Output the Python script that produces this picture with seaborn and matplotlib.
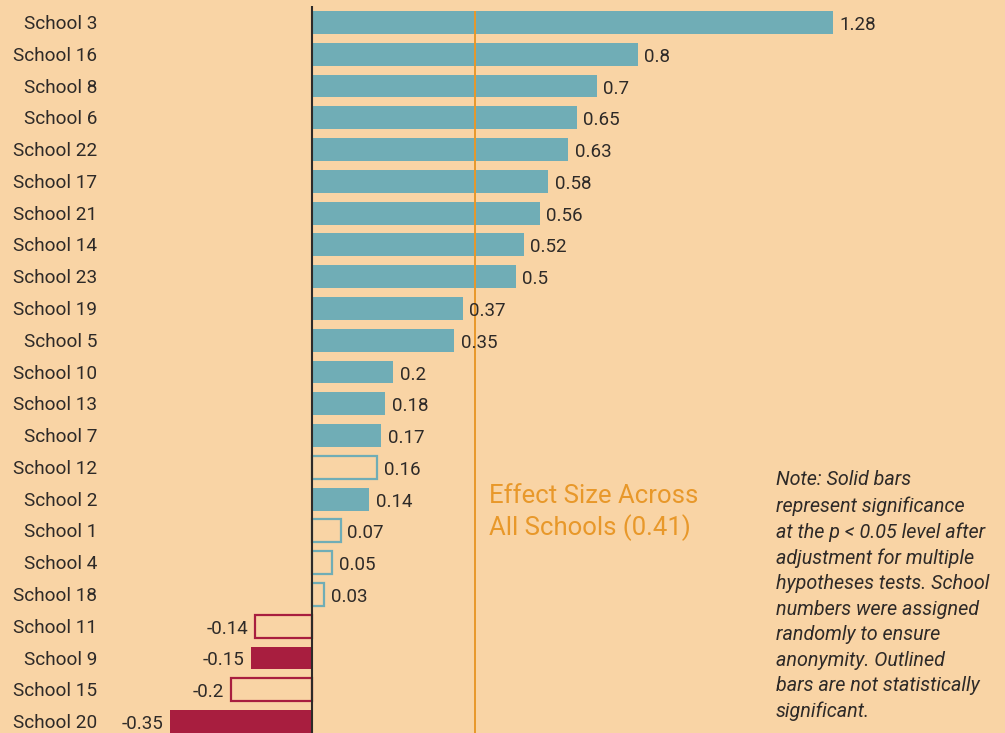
import pandas as pd
import matplotlib.pyplot as plt
import matplotlib.transforms as mtransforms
import seaborn as sns

# =============================================================================
# Data
# =============================================================================
schools = ['School 3', 'School 16', 'School 8', 'School 6', 'School 22', 'School 17',
           'School 21', 'School 14', 'School 23', 'School 19', 'School 5', 'School 10',
           'School 13', 'School 7', 'School 12', 'School 2', 'School 1', 'School 4',
           'School 18', 'School 11', 'School 9', 'School 15', 'School 20']
effects = [1.28, 0.8, 0.7, 0.65, 0.63, 0.58, 0.56, 0.52, 0.5, 0.37, 0.35, 0.2,
           0.18, 0.17, 0.16, 0.14, 0.07, 0.05, 0.03, -0.14, -0.15, -0.2, -0.35]
significant = [True, True, True, True, True, True, True, True, True, True, True, True,
               True, True, False, True, False, False, False, False, True, False, True]
overall_effect = 0.4
overall_label = 'Effect Size Across\nAll Schools (0.41)'
note_text = ('Note: Solid bars\nrepresent significance\nat the p < 0.05 level after\n'
             'adjustment for multiple\nhypotheses tests. School\nnumbers were assigned\n'
             'randomly to ensure\nanonymity. Outlined\nbars are not statistically\nsignificant.')

df = pd.DataFrame({'school': schools, 'effect': effects, 'sig': significant})

# colours
bg = '#F9D4A5'
teal = '#70ADB6'
red = '#A81E3F'
orange = '#E8982A'
dark = '#2E2A28'

sns.set_theme(style='white')
plt.rcParams['font.family'] = ['Roboto', 'DejaVu Sans']

fig = plt.figure(figsize=(10.05, 7.33), dpi=100, facecolor=bg)
ax = fig.add_axes([0, 0, 1, 1])
ax.set_facecolor(bg)

bar_colors = [teal if v >= 0 else red for v in effects]
sns.barplot(data=df, x='effect', y='school', hue='school', palette=bar_colors,
            orient='h', width=0.72, legend=False, ax=ax, saturation=1)

# outlined bars = not significant
for patch, v, sig in zip(ax.patches, effects, significant):
    c = teal if v >= 0 else red
    if sig:
        patch.set_facecolor(c)
        patch.set_edgecolor('none')
    else:
        patch.set_facecolor(bg)
        patch.set_edgecolor(c)
        patch.set_linewidth(1.6)

ax.set_xlim(-0.767, 1.703)
ax.set_ylim(22.362, -0.708)

# zero line and overall effect line
ax.vlines(0, -0.52, 22.4, color=dark, linewidth=1.5, zorder=3)
ax.vlines(overall_effect, -0.36, 22.4, color=orange, linewidth=1.4, zorder=1)

# value labels
for i, v in enumerate(effects):
    if v >= 0:
        ax.text(v + 0.016, i + 0.08, str(v), ha='left', va='center', fontsize=13.5, color=dark)
    else:
        ax.text(v - 0.016, i + 0.08, str(v), ha='right', va='center', fontsize=13.5, color=dark)

# school labels
trans = mtransforms.blended_transform_factory(ax.transAxes, ax.transData)
for i, s in enumerate(schools):
    ax.text(0.097, i + 0.05, s, transform=trans, ha='right', va='center', fontsize=13.7, color=dark)

ax.text(0.487, 0.301, overall_label, transform=ax.transAxes, ha='left', va='center',
        fontsize=18.5, color=orange, linespacing=1.26)
ax.text(0.772, 0.187, note_text, transform=ax.transAxes, ha='left', va='center',
        fontsize=14.2, color=dark, style='italic', linespacing=1.43)

ax.set_xlabel('')
ax.set_ylabel('')
ax.set_xticks([])
ax.set_yticks([])
for sp in ax.spines.values():
    sp.set_visible(False)

plt.savefig('out.png', dpi=100, facecolor=bg)
